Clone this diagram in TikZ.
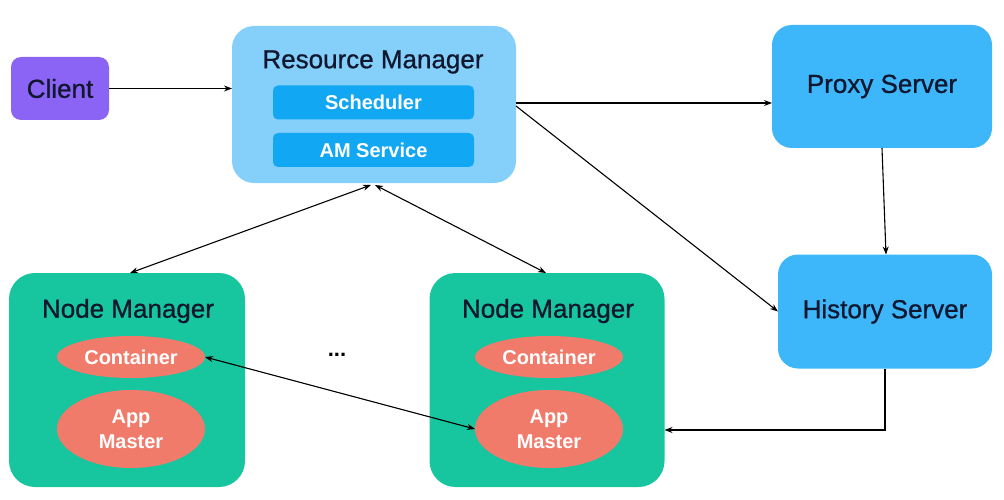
\documentclass[tikz,border=0pt]{standalone}
\usepackage{fontspec}
\setmainfont{Liberation Sans}
\newfontfamily\titlefont[FakeBold=0.8]{Liberation Sans}
\usetikzlibrary{arrows.meta,shapes.geometric}
\definecolor{clientc}{HTML}{8B63F5}
\definecolor{rmc}{HTML}{85CFFB}
\definecolor{innerc}{HTML}{12A7F3}
\definecolor{srvc}{HTML}{3EB6FA}
\definecolor{nmc}{HTML}{17C59F}
\definecolor{ellc}{HTML}{F17B6B}
\definecolor{titlec}{HTML}{10172E}
\tikzset{
  box/.style={rectangle, inner sep=0pt, outer sep=0pt},
  title/.style={text=titlec, font=\titlefont\fontsize{26}{30}\selectfont, inner sep=0pt},
  wtext/.style={text=white, font=\bfseries\fontsize{20}{24}\selectfont, inner sep=0pt},
  ell/.style={ellipse, fill=ellc, inner sep=0pt, outer sep=0pt, text=white, align=center,
    font=\bfseries\fontsize{20}{24.5}\selectfont},
  conn/.style={line width=1.1pt, -{Stealth[length=8pt,width=6pt]}},
  dconn/.style={line width=1.1pt, {Stealth[length=8pt,width=6pt]}-{Stealth[length=8pt,width=6pt]}}
}
\begin{document}
\begin{tikzpicture}[x=1pt,y=-1pt]
\useasboundingbox (0,0) rectangle (1004,500);
% Client
\node[box, fill=clientc, rounded corners=10pt, minimum width=98pt, minimum height=63pt,
  title] (client) at (60,88.5) {Client};
% Resource Manager
\node[box, fill=rmc, rounded corners=22pt, minimum width=284pt, minimum height=157pt] (rm) at (374,104.5) {};
\node[title] (rmt) at (373,62) {Resource Manager};
\node[box, fill=innerc, rounded corners=5pt, minimum width=201pt, minimum height=34pt, wtext] (sch) at (373.5,102.5) {Scheduler};
\node[box, fill=innerc, rounded corners=5pt, minimum width=201pt, minimum height=34pt, wtext] (ams) at (373.5,150) {AM Service};
% Proxy / History
\node[box, fill=srvc, rounded corners=20pt, minimum width=220pt, minimum height=123pt,
  title] (proxy) at (882,86.5) {Proxy Server};
\node[box, fill=srvc, rounded corners=20pt, minimum width=214pt, minimum height=114pt,
  title] (history) at (885,311.5) {History Server};
% Node Managers
\node[box, fill=nmc, rounded corners=26pt, minimum width=236pt, minimum height=214pt] (nm1) at (127,380) {};
\node[title] (nm1t) at (128,311) {Node Manager};
\node[ell, minimum width=148pt, minimum height=42pt] (c1) at (131,357) {Container};
\node[ell, minimum width=148pt, minimum height=78pt] (am1) at (131,429) {App\\Master};
\node[box, fill=nmc, rounded corners=26pt, minimum width=235pt, minimum height=214pt] (nm2) at (547,380) {};
\node[title] (nm2t) at (548,311) {Node Manager};
\node[ell, minimum width=148pt, minimum height=42pt] (c2) at (549,357) {Container};
\node[ell, minimum width=148pt, minimum height=78pt] (am2) at (549,429) {App\\Master};
\node[text=black, font=\bfseries\fontsize{22}{24}\selectfont, inner sep=0pt] (dots) at (337,355) {...};
% Connectors
\coordinate (rmp) at ([yshift=1.5pt]rm.east);
\coordinate (rmh) at ([yshift=-1.5pt]rm.east);
\draw[conn] (client.east) -- (rm.west |- client.east);
\draw[conn] (rmp) -- (proxy.west |- rmp);
\draw[conn] (rmh) -- (history.west);
\draw[conn] (proxy.south) -- ([xshift=1pt]history.north);
\draw[conn] (history.south) |- ([yshift=-50pt]nm2.east);
\draw[dconn] ([xshift=-3pt,yshift=-2pt]rm.south) -- ([xshift=3pt]nm1.north);
\draw[dconn] ([xshift=1pt,yshift=-2pt]rm.south) -- ([xshift=-1pt]nm2.north);
\draw[dconn] (c1.east) -- (am2.west);
\end{tikzpicture}
\end{document}
